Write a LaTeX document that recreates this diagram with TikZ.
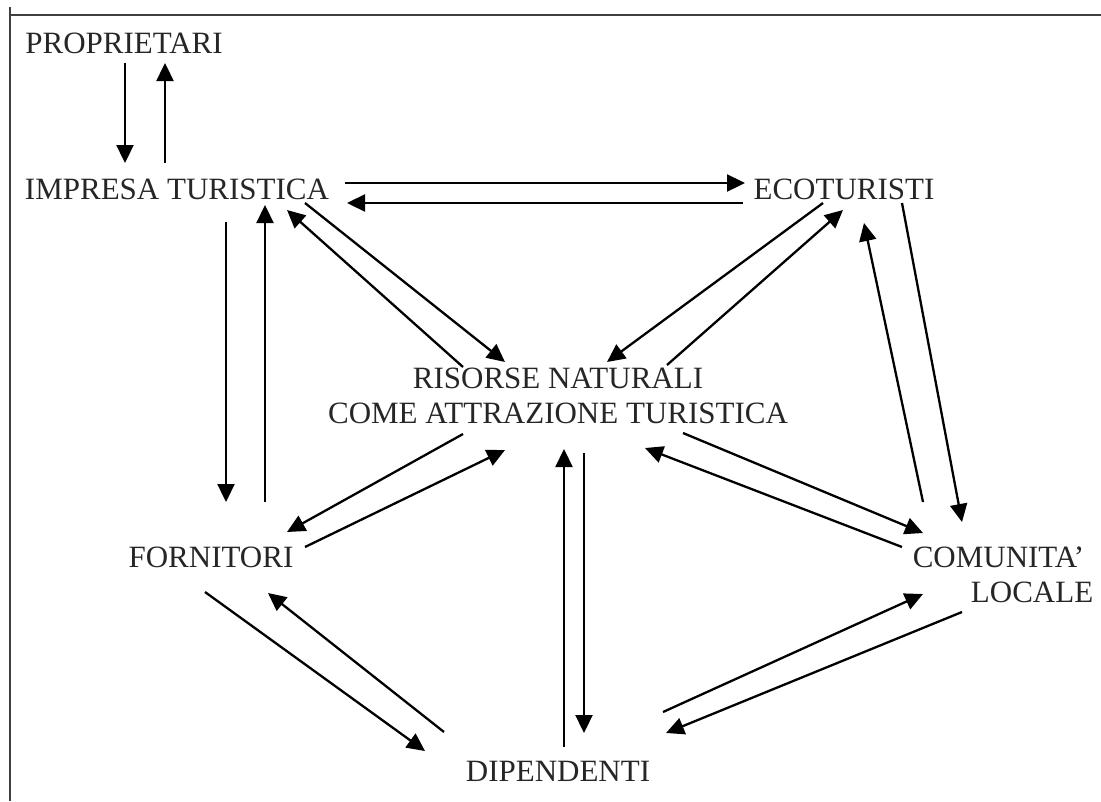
\documentclass[tikz,border=0pt]{standalone}
\usepackage{fontspec}
\setmainfont{Liberation Serif}
\usepackage{tikz}
\usetikzlibrary{arrows.meta}
\usetikzlibrary{calc}

\begin{document}
\begin{tikzpicture}[x=1pt,y=-1pt,
  lbl/.style={inner sep=0pt,text=black!85,font=\fontsize{31}{35}\selectfont},
  arr/.style={line width=2.3pt,-{Triangle[length=18pt,width=17pt]}}]
  \useasboundingbox (0,0) rectangle (1101,801);
  % frame
  \draw[line width=1.8pt,black!75]
    (10,7)
    --
    (10,801);
  \draw[line width=1.8pt,black!75]
    (10,15)
    --
    (1101,15);
  % actors
  \node[lbl] (prop) at (124,43) {PROPRIETARI};
  \node[lbl] (imp) at (177,189) {IMPRESA TURISTICA};
  \node[lbl] (eco) at (844,189) {ECOTURISTI};
  \node[lbl,align=center] (ris) at (558,396)
    {RISORSE NATURALI\\COME ATTRAZIONE TURISTICA};
  \node[lbl] (forn) at (211,557) {FORNITORI};
  \node[lbl,align=right] (com) at (1003,575)
    {COMUNITA’\hspace*{9pt}\\LOCALE};
  \node[lbl] (dip) at (558,771) {DIPENDENTI};
  % proprietari - impresa
  \draw[arr]
    ($(prop)+(1,20)$)
    --
    ($(imp)+(-52,-26)$);
  \draw[arr]
    ($(imp)+(-12,-26)$)
    --
    ($(prop)+(41,20)$);
  % impresa - ecoturisti
  \draw[arr]
    ($(imp)+(168,-6)$)
    --
    ($(eco)+(-99,-6)$);
  \draw[arr]
    ($(eco)+(-101,14)$)
    --
    ($(imp)+(170,14)$);
  % impresa - fornitori
  \draw[arr]
    ($(imp)+(49,33)$)
    --
    ($(forn)+(15,-55)$);
  \draw[arr]
    ($(forn)+(54,-55)$)
    --
    ($(imp)+(88,16)$);
  % impresa - risorse
  \draw[arr]
    ($(imp)+(128,14)$)
    --
    ($(ris)+(-53,-34)$);
  \draw[arr]
    ($(ris)+(-95,-29)$)
    --
    ($(imp)+(110,21)$);
  % ecoturisti - risorse
  \draw[arr]
    ($(eco)+(-21,14)$)
    --
    ($(ris)+(49,-34)$);
  \draw[arr]
    ($(ris)+(109,-31)$)
    --
    ($(eco)+(-1,21)$);
  % ecoturisti - comunita
  \draw[arr]
    ($(com)+(-80,-73)$)
    --
    ($(eco)+(20,34)$);
  \draw[arr]
    ($(eco)+(58,14)$)
    --
    ($(com)+(-41,-53)$);
  % risorse - comunita
  \draw[arr]
    ($(ris)+(125,37)$)
    --
    ($(com)+(-80,-42)$);
  \draw[arr]
    ($(com)+(-101,-28)$)
    --
    ($(ris)+(87,52)$);
  % risorse - fornitori
  \draw[arr]
    ($(ris)+(-95,38)$)
    --
    ($(forn)+(76,-25)$);
  \draw[arr]
    ($(forn)+(94,-10)$)
    --
    ($(ris)+(-53,54)$);
  % risorse - dipendenti
  \draw[arr]
    ($(dip)+(6,-24)$)
    --
    ($(ris)+(6,53)$);
  \draw[arr]
    ($(ris)+(26,57)$)
    --
    ($(dip)+(26,-38)$);
  % fornitori - dipendenti
  \draw[arr]
    ($(forn)+(-6,35)$)
    --
    ($(dip)+(-133,-20)$);
  \draw[arr]
    ($(dip)+(-114,-39)$)
    --
    ($(forn)+(57,36)$);
  % dipendenti - comunita
  \draw[arr]
    ($(dip)+(105,-59)$)
    --
    ($(com)+(-80,19)$);
  \draw[arr]
    ($(com)+(-41,37)$)
    --
    ($(dip)+(108,-38)$);
\end{tikzpicture}
\end{document}
